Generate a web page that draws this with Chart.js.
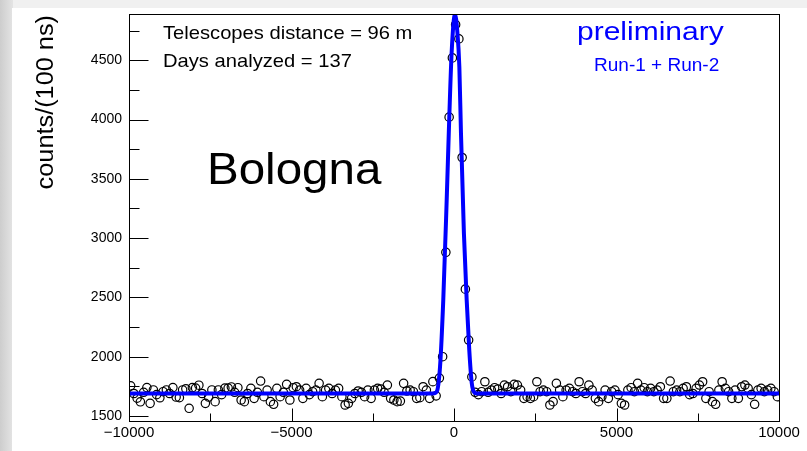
<!DOCTYPE html>
<html>
<head>
<meta charset="utf-8">
<script src="https://cdn.jsdelivr.net/npm/chart.js@4.4.0/dist/chart.umd.min.js"></script>
<style>
html, body { margin: 0; padding: 0; }
body { width: 807px; height: 451px; overflow: hidden; background: #f0f0f0; position: relative; }
#side { position: absolute; left: 0; top: 0; width: 13px; height: 451px; background: linear-gradient(90deg, #cdcdcd, #e4e4e4); }
#wrap { position: absolute; left: 12px; top: 8px; width: 795px; height: 443px; background: #fff; }
</style>
</head>
<body>
<div id="side"></div>
<div id="wrap"><canvas id="myChart" width="795" height="443"></canvas></div>
<script>
// histogram: 100 ns bins from -10000 to 10000
const binStart = -9950;
const binWidth = 100;
const counts = [
  1755, 1690, 1650, 1620, 1700, 1740, 1607, 1720, 1680, 1654,
  1705, 1720, 1690, 1740, 1660, 1655, 1720, 1730, 1565, 1740,
  1735, 1760, 1690, 1607, 1660, 1720, 1621, 1720, 1680, 1735,
  1735, 1745, 1700, 1739, 1635, 1621, 1690, 1733, 1649, 1700,
  1795, 1663, 1719, 1621, 1599, 1733, 1663, 1700, 1767, 1635,
  1739, 1747, 1719, 1649, 1733, 1680, 1705, 1719, 1776, 1663,
  1719, 1733, 1690, 1719, 1733, 1663, 1593, 1607, 1649, 1690,
  1711, 1700, 1663, 1719, 1649, 1719, 1733, 1728, 1700, 1761,
  1649, 1635, 1621, 1626, 1776, 1711, 1719, 1705, 1649, 1655,
  1747, 1719, 1649, 1790, 1670, 1820, 2000, 2880, 4020, 4520,
  4800, 4680, 3680, 2570, 2140, 1830, 1700, 1680, 1705, 1789,
  1700, 1719, 1739, 1728, 1690, 1761, 1747, 1705, 1767, 1761,
  1719, 1649, 1663, 1649, 1663, 1789, 1705, 1719, 1705, 1593,
  1621, 1776, 1719, 1663, 1719, 1733, 1705, 1690, 1789, 1705,
  1690, 1761, 1719, 1649, 1621, 1663, 1719, 1649, 1705, 1719,
  1680, 1607, 1593, 1719, 1739, 1705, 1776, 1719, 1739, 1705,
  1733, 1705, 1719, 1747, 1649, 1649, 1795, 1705, 1719, 1705,
  1733, 1747, 1680, 1690, 1733, 1761, 1789, 1649, 1705, 1621,
  1599, 1719, 1789, 1733, 1705, 1649, 1719, 1649, 1747, 1761,
  1733, 1680, 1599, 1719, 1733, 1705, 1719, 1733, 1705, 1663
];

// fit curve
const fitX = [-10000, -700, -600, -530, -430, -330, -225, -145, -70, 30, 100, 165, 215, 305, 390, 470, 545, 620, 700, 10000];
const fitY = [1690, 1690, 1692, 1705, 1915, 2480, 3320, 4020, 4580, 4885, 4750, 4440, 3880, 3040, 2480, 2055, 1780, 1700, 1690, 1690];

const xMajor = [-10000, -5000, 0, 5000, 10000];
const xMinor = [-7500, -2500, 2500, 7500];
const yMajor = [1500, 2000, 2500, 3000, 3500, 4000, 4500];
const yMinor = [1750, 2250, 2750, 3250, 3750, 4250, 4750];

const FONT = '"Liberation Sans", Arial, Helvetica, sans-serif';

let points = counts.map((c, i) => ({ x: binStart + i * binWidth, y: c }));
let fitPoints = fitX.map((x, i) => ({ x: x, y: fitY[i] }));

// ROOT style frame with ticks on the inside
const framePlugin = {
  id: 'frame',
  afterDatasetsDraw(chart) {
    const { ctx, chartArea: a, scales: { x, y } } = chart;
    const L = Math.round(a.left) + 0.5, R = Math.round(a.right) + 0.5;
    const T = Math.round(a.top) + 0.5, B = Math.round(a.bottom) + 0.5;
    ctx.save();
    ctx.strokeStyle = '#000';
    ctx.lineWidth = 1;
    ctx.strokeRect(L, T, R - L, B - T);
    ctx.beginPath();
    yMajor.forEach(v => { const p = Math.round(y.getPixelForValue(v)) + 0.5; ctx.moveTo(L, p); ctx.lineTo(L + 19, p); });
    yMinor.forEach(v => { const p = Math.round(y.getPixelForValue(v)) + 0.5; ctx.moveTo(L, p); ctx.lineTo(L + 10, p); });
    xMajor.forEach(v => { const p = Math.round(x.getPixelForValue(v)) + 0.5; ctx.moveTo(p, B); ctx.lineTo(p, B - 13); });
    xMinor.forEach(v => { const p = Math.round(x.getPixelForValue(v)) + 0.5; ctx.moveTo(p, B); ctx.lineTo(p, B - 8); });
    ctx.stroke();
    ctx.restore();
  }
};

// texts on the pad (sx = horizontal stretch of the source picture)
const labels = [
  { text: 'Telescopes distance = 96 m', x: 151, y: 30.5, size: 18.5, sx: 1.09, color: '#000' },
  { text: 'Days analyzed = 137', x: 151, y: 58.5, size: 18.5, sx: 1.09, color: '#000' },
  { text: 'Bologna', x: 195, y: 176, size: 44, sx: 1.08, color: '#000' },
  { text: 'preliminary', x: 565, y: 31.5, size: 25, sx: 1.2, color: '#0000ff' },
  { text: 'Run-1 + Run-2', x: 582, y: 62.5, size: 18.3, sx: 1.04, color: '#0000ff' }
];

const textPlugin = {
  id: 'texts',
  afterDraw(chart) {
    const ctx = chart.ctx;
    ctx.save();
    ctx.textBaseline = 'alphabetic';
    ctx.textAlign = 'left';
    labels.forEach(l => {
      ctx.save();
      ctx.translate(l.x, l.y);
      ctx.scale(l.sx, 1);
      ctx.font = l.size + 'px ' + FONT;
      ctx.fillStyle = l.color;
      ctx.fillText(l.text, 0, 0);
      ctx.restore();
    });
    // y axis title, aligned to the top end
    ctx.translate(35, 7);
    ctx.rotate(-Math.PI / 2);
    ctx.scale(1.1, 1);
    ctx.textAlign = 'right';
    ctx.textBaseline = 'middle';
    ctx.font = '23px ' + FONT;
    ctx.fillStyle = '#000';
    ctx.fillText('counts/(100 ns)', 0, 0);
    ctx.restore();
  }
};

const ctx1 = document.getElementById('myChart');

let config = {
  type: 'line',
  data: {
    datasets: [
      {
        label: 'fit',
        data: fitPoints,
        borderColor: '#0000ff',
        borderWidth: 4,
        pointRadius: 0,
        cubicInterpolationMode: 'monotone',
        fill: false,
        order: 0
      },
      {
        label: 'data',
        data: points,
        showLine: false,
        pointStyle: 'circle',
        pointRadius: 4.2,
        pointBorderWidth: 1.2,
        pointBorderColor: '#000',
        pointBackgroundColor: 'rgba(0,0,0,0)',
        order: 1
      }
    ]
  },
  options: {
    responsive: false,
    animation: false,
    devicePixelRatio: 1,
    layout: { padding: { top: 6, right: 28, left: 0, bottom: 0 } },
    plugins: { legend: { display: false }, tooltip: { enabled: false } },
    scales: {
      x: {
        type: 'linear',
        min: -10000,
        max: 10000,
        grid: { display: false, drawTicks: false },
        border: { display: false },
        afterBuildTicks: s => { s.ticks = xMajor.map(v => ({ value: v })); },
        afterFit: s => { s.height = 30; s.paddingLeft = 0; s.paddingRight = 0; },
        ticks: {
          color: '#000',
          padding: 3,
          maxRotation: 0,
          autoSkip: false,
          font: { family: FONT, size: 15 },
          callback: v => v < 0 ? '\u2212' + Math.abs(v) : String(v)
        }
      },
      y: {
        min: 1458,
        max: 4890,
        grid: { display: false, drawTicks: false },
        border: { display: false },
        afterBuildTicks: s => { s.ticks = yMajor.map(v => ({ value: v })); },
        afterFit: s => { s.width = 117; s.paddingTop = 0; s.paddingBottom = 0; },
        ticks: {
          color: '#000',
          padding: 7,
          autoSkip: false,
          font: { family: FONT, size: 14 },
          callback: v => String(v)
        }
      }
    }
  },
  plugins: [framePlugin, textPlugin]
};

let myChart = new Chart(ctx1, config);
</script>
</body>
</html>
